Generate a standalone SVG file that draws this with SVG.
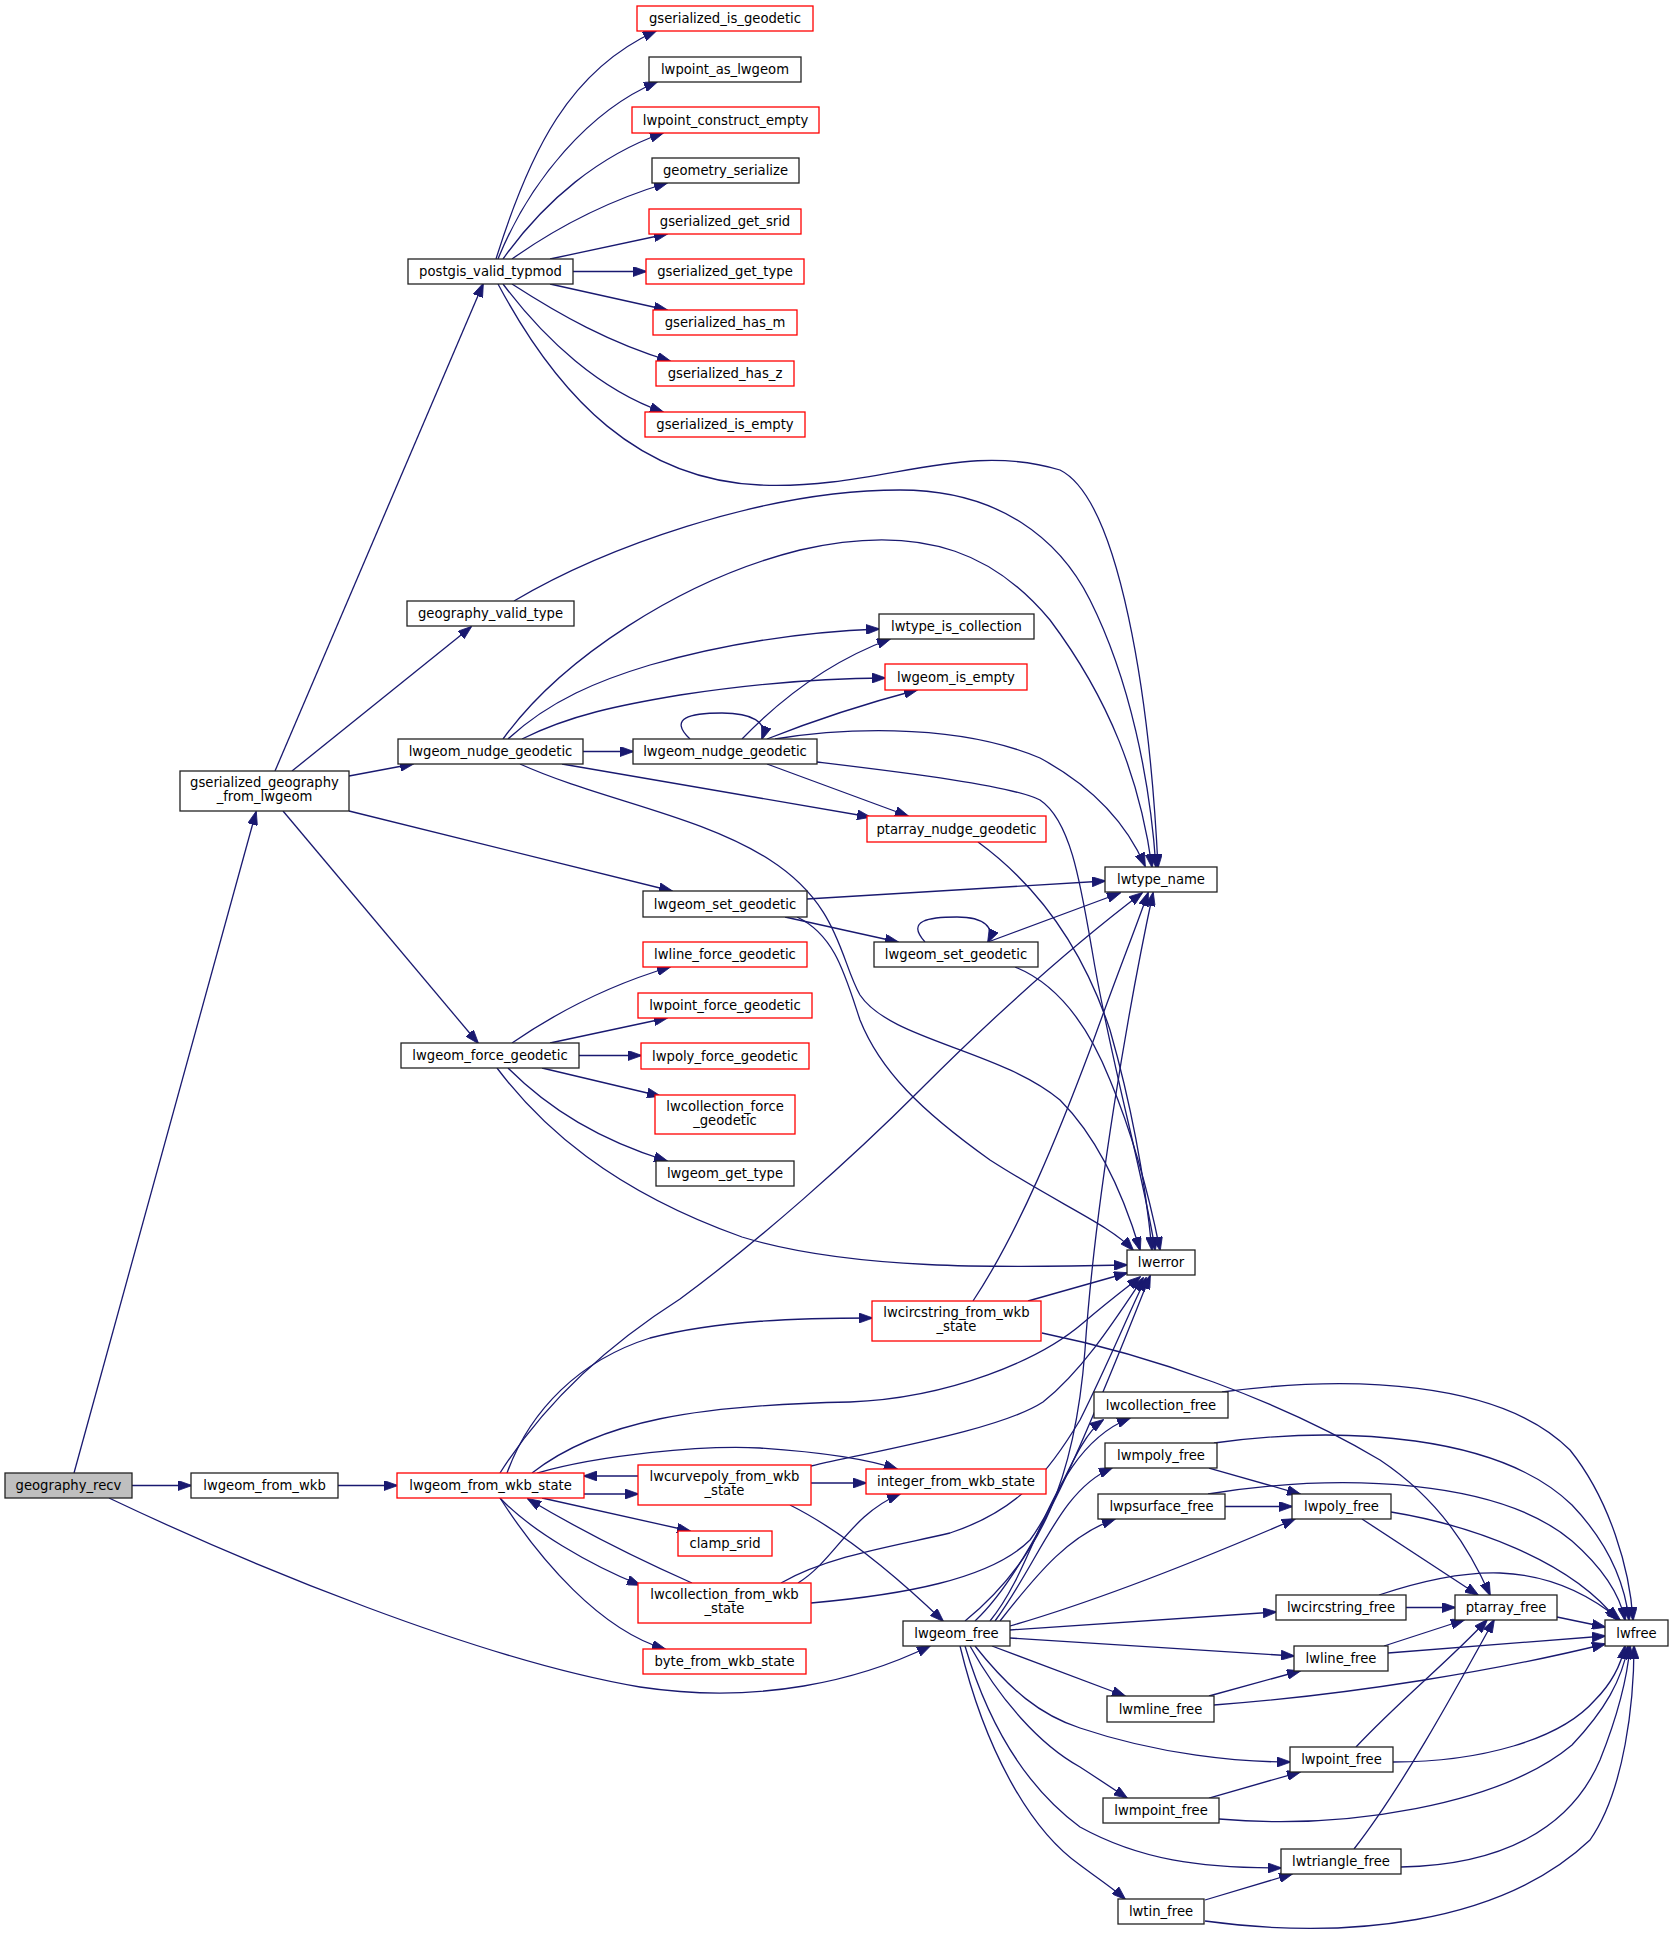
<svg xmlns="http://www.w3.org/2000/svg" width="1673" height="1940" viewBox="0 0 1673 1940">
<style>
.node rect{fill:#ffffff;stroke:#222222;stroke-width:1.3}
.node rect.red{stroke:#ff0000}
.node rect.gray{fill:#bfbfbf}
.node text{font-family:"DejaVu Sans",sans-serif;font-size:13.2px;text-anchor:middle;fill:#000000}
#edges path{fill:none;stroke:#191970;stroke-width:1.3;marker-end:url(#arr)}
</style>
<defs>
<marker id="arr" markerUnits="userSpaceOnUse" markerWidth="14" markerHeight="10" viewBox="0 0 14 10" refX="13" refY="5" orient="auto">
<path d="M0,0 L14,5 L0,10 z" fill="#191970" stroke="#191970" stroke-width="0.8"/>
</marker>
</defs>
<rect x="0" y="0" width="1673" height="1940" fill="#ffffff"/>
<g id="edges">
<path d="M74,1473 L256,812"/>
<path d="M132,1485.5 L191,1485.5"/>
<path d="M109,1498 C250,1565 480,1660 640,1687 C760,1705 860,1680 930,1646"/>
<path d="M275,771 L483,284"/>
<path d="M292,771 L471,627"/>
<path d="M349,776 L413,764"/>
<path d="M349,811 L672,891"/>
<path d="M283,811 L478,1043"/>
<path d="M338,1485.5 L397,1485.5"/>
<path d="M496,259 C530,150 570,70 656,31"/>
<path d="M498,259 C530,180 590,110 657,82"/>
<path d="M503,259 C545,200 600,155 663,133"/>
<path d="M512,259 C560,225 610,200 667,183"/>
<path d="M550,259 L667,234"/>
<path d="M573,271.5 L646,271.5"/>
<path d="M550,284 L667,310"/>
<path d="M512,284 C560,315 610,343 670,361"/>
<path d="M503,284 C545,340 600,390 663,412"/>
<path d="M498,284 C560,400 640,480 760,485 C880,490 960,440 1060,470 C1120,500 1150,700 1158,867"/>
<path d="M514,601 C600,550 760,490 900,490 C1000,490 1060,540 1090,600 C1130,680 1150,780 1156,867"/>
<path d="M503,739 C560,660 680,580 800,550 C930,520 1000,560 1050,620 C1110,700 1140,780 1152,867"/>
<path d="M508,739 C550,700 600,680 650,665 C720,645 800,632 879,629"/>
<path d="M522,739 C570,715 620,705 680,695 C760,683 830,678 885,678"/>
<path d="M583,751.5 L633,751.5"/>
<path d="M562,764 L870,817"/>
<path d="M520,764 C600,800 700,815 770,860 C840,905 840,960 860,995 C890,1040 1000,1050 1060,1100 C1100,1140 1125,1200 1140,1250"/>
<path d="M690,739 C668,718 690,713 722,713 C752,713 768,722 762,739"/>
<path d="M742,739 C770,710 820,665 890,639"/>
<path d="M767,739 C810,722 860,705 917,690"/>
<path d="M775,739 C830,730 950,720 1040,758 C1090,785 1125,820 1145,866"/>
<path d="M817,762 C900,772 1010,785 1040,800 C1070,820 1080,880 1092,950 C1110,1060 1145,1180 1155,1250"/>
<path d="M767,764 L908,816"/>
<path d="M807,899 L1105,881"/>
<path d="M785,917 L898,942"/>
<path d="M797,917 C835,935 845,975 860,1020 C880,1070 920,1110 990,1160 C1060,1205 1110,1225 1133,1250"/>
<path d="M925,942 C905,920 930,917 957,917 C985,917 995,928 988,942"/>
<path d="M988,942 L1120,893"/>
<path d="M1015,967 C1060,985 1090,1030 1110,1080 C1135,1140 1150,1200 1160,1250"/>
<path d="M978,842 C1030,880 1080,940 1110,1030 C1130,1100 1145,1180 1152,1250"/>
<path d="M512,1043 C560,1010 610,985 670,967"/>
<path d="M550,1043 L667,1018"/>
<path d="M579,1055.5 L641,1055.5"/>
<path d="M542,1068 L660,1096"/>
<path d="M508,1068 C550,1110 600,1140 667,1161"/>
<path d="M497,1068 C540,1125 610,1190 742,1237 C850,1270 1000,1268 1127,1265"/>
<path d="M500,1473 C540,1410 600,1350 680,1299 C760,1240 850,1160 920,1090 C1000,1010 1080,940 1142,893"/>
<path d="M507,1473 C530,1410 580,1360 650,1338 C720,1320 800,1318 872,1318"/>
<path d="M532,1473 C600,1420 700,1405 850,1402 C950,1398 1040,1360 1083,1323 C1110,1300 1130,1285 1140,1277"/>
<path d="M537,1473 C600,1455 700,1445 760,1448 C820,1452 870,1460 897,1469"/>
<path d="M584,1494 L638,1494"/>
<path d="M638,1476 L584,1476"/>
<path d="M542,1498 L690,1531"/>
<path d="M500,1498 C530,1530 590,1565 640,1585"/>
<path d="M692,1583 C640,1560 580,1530 528,1499"/>
<path d="M500,1498 C540,1560 600,1630 665,1649"/>
<path d="M811,1483 L866,1483"/>
<path d="M811,1466 C880,1450 1000,1430 1043,1402 C1083,1370 1115,1320 1143,1278"/>
<path d="M790,1505 C840,1530 890,1570 943,1621"/>
<path d="M798,1583 C835,1560 850,1515 900,1494"/>
<path d="M781,1583 C830,1555 900,1545 950,1533 C1020,1510 1050,1470 1080,1420 C1110,1360 1130,1310 1146,1278"/>
<path d="M811,1603 C900,1595 990,1580 1030,1540 C1060,1500 1075,1440 1103,1420"/>
<path d="M973,1301 C1020,1230 1060,1130 1090,1050 C1115,980 1135,930 1148,893"/>
<path d="M1028,1301 L1127,1273"/>
<path d="M1042,1333 C1150,1355 1280,1400 1380,1460 C1440,1500 1470,1550 1490,1595"/>
<path d="M965,1621 C1040,1560 1075,1480 1085,1350 C1095,1200 1130,1000 1153,893"/>
<path d="M975,1621 C1040,1560 1100,1400 1150,1276"/>
<path d="M990,1621 C1040,1560 1050,1450 1130,1418"/>
<path d="M995,1621 C1040,1560 1060,1490 1112,1468"/>
<path d="M1000,1621 C1040,1570 1070,1535 1115,1519"/>
<path d="M1010,1626 C1100,1600 1200,1560 1295,1519"/>
<path d="M1010,1630 L1276,1612"/>
<path d="M1010,1638 L1294,1656"/>
<path d="M992,1646 L1125,1696"/>
<path d="M975,1646 C1010,1690 1040,1715 1080,1728 C1160,1755 1240,1762 1290,1762"/>
<path d="M970,1646 C1000,1700 1040,1745 1080,1767 C1100,1780 1115,1790 1127,1798"/>
<path d="M965,1646 C990,1730 1030,1790 1080,1827 C1140,1860 1200,1868 1281,1868"/>
<path d="M960,1646 C985,1750 1030,1830 1080,1865 C1100,1880 1115,1890 1125,1899"/>
<path d="M1222,1392 C1350,1375 1500,1380 1570,1450 C1610,1500 1630,1570 1633,1620"/>
<path d="M1214,1443 C1345,1425 1500,1435 1572,1505 C1610,1545 1625,1585 1629,1620"/>
<path d="M1209,1468 L1300,1494"/>
<path d="M1225,1506.5 L1292,1506.5"/>
<path d="M1208,1494 C1345,1472 1500,1480 1572,1541 C1605,1570 1620,1595 1625,1620"/>
<path d="M1209,1696 L1300,1671"/>
<path d="M1214,1705 C1350,1695 1500,1670 1605,1644"/>
<path d="M1209,1798 L1300,1772"/>
<path d="M1219,1819 C1345,1830 1500,1805 1572,1745 C1605,1710 1622,1680 1628,1646"/>
<path d="M1205,1900 L1292,1874"/>
<path d="M1205,1921 C1345,1940 1500,1925 1590,1840 C1625,1790 1634,1700 1634,1646"/>
<path d="M1362,1519 L1478,1595"/>
<path d="M1391,1512 C1470,1525 1570,1560 1617,1620"/>
<path d="M1406,1607.5 L1455,1607.5"/>
<path d="M1379,1595 C1430,1578 1470,1572 1500,1573 C1550,1575 1590,1595 1620,1620"/>
<path d="M1557,1617 L1605,1627"/>
<path d="M1384,1646 L1464,1620"/>
<path d="M1388,1653 L1605,1636"/>
<path d="M1356,1747 C1400,1700 1450,1660 1487,1620"/>
<path d="M1393,1762 C1480,1762 1560,1740 1595,1700 C1615,1680 1622,1660 1625,1646"/>
<path d="M1354,1849 C1400,1790 1450,1700 1494,1620"/>
<path d="M1401,1867 C1500,1865 1570,1830 1600,1760 C1620,1710 1628,1670 1630,1646"/>
</g>
<g id="n_geography_recv" class="node"><rect class="gray" x="5" y="1473" width="127" height="25"/><text x="68.5" y="1490">geography_recv</text></g>
<g id="n_gserialized_geography_from_lwgeom" class="node"><rect x="180" y="771" width="169" height="40"/><text x="264.5" y="787">gserialized_geography</text><text x="264.5" y="801">_from_lwgeom</text></g>
<g id="n_lwgeom_from_wkb" class="node"><rect x="191" y="1473" width="147" height="25"/><text x="264.5" y="1490">lwgeom_from_wkb</text></g>
<g id="n_postgis_valid_typmod" class="node"><rect x="408" y="259" width="165" height="25"/><text x="490.5" y="276">postgis_valid_typmod</text></g>
<g id="n_geography_valid_type" class="node"><rect x="407" y="601" width="167" height="25"/><text x="490.5" y="618">geography_valid_type</text></g>
<g id="n_lwgeom_nudge_geodetic_a" class="node"><rect x="398" y="739" width="185" height="25"/><text x="490.5" y="756">lwgeom_nudge_geodetic</text></g>
<g id="n_lwgeom_set_geodetic_a" class="node"><rect x="643" y="891" width="164" height="26"/><text x="725" y="908.5">lwgeom_set_geodetic</text></g>
<g id="n_lwgeom_force_geodetic" class="node"><rect x="401" y="1043" width="178" height="25"/><text x="490" y="1060">lwgeom_force_geodetic</text></g>
<g id="n_lwgeom_from_wkb_state" class="node"><rect class="red" x="397" y="1473" width="187" height="25"/><text x="490.5" y="1490">lwgeom_from_wkb_state</text></g>
<g id="n_gserialized_is_geodetic" class="node"><rect class="red" x="637" y="6" width="176" height="25"/><text x="725" y="23">gserialized_is_geodetic</text></g>
<g id="n_lwpoint_as_lwgeom" class="node"><rect x="649" y="57" width="152" height="25"/><text x="725" y="74">lwpoint_as_lwgeom</text></g>
<g id="n_lwpoint_construct_empty" class="node"><rect class="red" x="632" y="107" width="187" height="26"/><text x="725.5" y="124.5">lwpoint_construct_empty</text></g>
<g id="n_geometry_serialize" class="node"><rect x="652" y="158" width="147" height="25"/><text x="725.5" y="175">geometry_serialize</text></g>
<g id="n_gserialized_get_srid" class="node"><rect class="red" x="649" y="209" width="152" height="25"/><text x="725" y="226">gserialized_get_srid</text></g>
<g id="n_gserialized_get_type" class="node"><rect class="red" x="646" y="259" width="158" height="25"/><text x="725" y="276">gserialized_get_type</text></g>
<g id="n_gserialized_has_m" class="node"><rect class="red" x="653" y="310" width="144" height="25"/><text x="725" y="327">gserialized_has_m</text></g>
<g id="n_gserialized_has_z" class="node"><rect class="red" x="656" y="361" width="138" height="25"/><text x="725" y="378">gserialized_has_z</text></g>
<g id="n_gserialized_is_empty" class="node"><rect class="red" x="645" y="412" width="160" height="25"/><text x="725" y="429">gserialized_is_empty</text></g>
<g id="n_lwgeom_nudge_geodetic_b" class="node"><rect x="633" y="739" width="184" height="25"/><text x="725" y="756">lwgeom_nudge_geodetic</text></g>
<g id="n_lwline_force_geodetic" class="node"><rect class="red" x="643" y="942" width="164" height="25"/><text x="725" y="959">lwline_force_geodetic</text></g>
<g id="n_lwpoint_force_geodetic" class="node"><rect class="red" x="638" y="993" width="174" height="25"/><text x="725" y="1010">lwpoint_force_geodetic</text></g>
<g id="n_lwpoly_force_geodetic" class="node"><rect class="red" x="641" y="1043" width="168" height="26"/><text x="725" y="1060.5">lwpoly_force_geodetic</text></g>
<g id="n_lwcollection_force_geodetic" class="node"><rect class="red" x="655" y="1095" width="140" height="39"/><text x="725" y="1110.5">lwcollection_force</text><text x="725" y="1124.5">_geodetic</text></g>
<g id="n_lwgeom_get_type" class="node"><rect x="656" y="1161" width="138" height="25"/><text x="725" y="1178">lwgeom_get_type</text></g>
<g id="n_lwcurvepoly_from_wkb_state" class="node"><rect class="red" x="638" y="1465" width="173" height="40"/><text x="724.5" y="1481">lwcurvepoly_from_wkb</text><text x="724.5" y="1495">_state</text></g>
<g id="n_clamp_srid" class="node"><rect class="red" x="678" y="1531" width="94" height="25"/><text x="725" y="1548">clamp_srid</text></g>
<g id="n_lwcollection_from_wkb_state" class="node"><rect class="red" x="638" y="1583" width="173" height="40"/><text x="724.5" y="1599">lwcollection_from_wkb</text><text x="724.5" y="1613">_state</text></g>
<g id="n_byte_from_wkb_state" class="node"><rect class="red" x="643" y="1649" width="163" height="25"/><text x="724.5" y="1666">byte_from_wkb_state</text></g>
<g id="n_lwtype_is_collection" class="node"><rect x="879" y="614" width="155" height="25"/><text x="956.5" y="631">lwtype_is_collection</text></g>
<g id="n_lwgeom_is_empty" class="node"><rect class="red" x="885" y="664" width="142" height="26"/><text x="956" y="681.5">lwgeom_is_empty</text></g>
<g id="n_ptarray_nudge_geodetic" class="node"><rect class="red" x="867" y="816" width="179" height="26"/><text x="956.5" y="833.5">ptarray_nudge_geodetic</text></g>
<g id="n_lwgeom_set_geodetic_b" class="node"><rect x="874" y="942" width="164" height="25"/><text x="956" y="959">lwgeom_set_geodetic</text></g>
<g id="n_lwcircstring_from_wkb_state" class="node"><rect class="red" x="872" y="1301" width="169" height="40"/><text x="956.5" y="1317">lwcircstring_from_wkb</text><text x="956.5" y="1331">_state</text></g>
<g id="n_integer_from_wkb_state" class="node"><rect class="red" x="866" y="1469" width="180" height="25"/><text x="956" y="1486">integer_from_wkb_state</text></g>
<g id="n_lwgeom_free" class="node"><rect x="903" y="1621" width="107" height="25"/><text x="956.5" y="1638">lwgeom_free</text></g>
<g id="n_lwtype_name" class="node"><rect x="1105" y="867" width="112" height="25"/><text x="1161" y="884">lwtype_name</text></g>
<g id="n_lwerror" class="node"><rect x="1127" y="1250" width="68" height="25"/><text x="1161" y="1267">lwerror</text></g>
<g id="n_lwcollection_free" class="node"><rect x="1094" y="1392" width="134" height="26"/><text x="1161" y="1409.5">lwcollection_free</text></g>
<g id="n_lwmpoly_free" class="node"><rect x="1105" y="1443" width="112" height="25"/><text x="1161" y="1460">lwmpoly_free</text></g>
<g id="n_lwpsurface_free" class="node"><rect x="1098" y="1494" width="127" height="25"/><text x="1161.5" y="1511">lwpsurface_free</text></g>
<g id="n_lwmline_free" class="node"><rect x="1107" y="1696" width="107" height="26"/><text x="1160.5" y="1713.5">lwmline_free</text></g>
<g id="n_lwmpoint_free" class="node"><rect x="1103" y="1798" width="116" height="25"/><text x="1161" y="1815">lwmpoint_free</text></g>
<g id="n_lwtin_free" class="node"><rect x="1118" y="1899" width="86" height="25"/><text x="1161" y="1916">lwtin_free</text></g>
<g id="n_lwpoly_free" class="node"><rect x="1292" y="1494" width="99" height="25"/><text x="1341.5" y="1511">lwpoly_free</text></g>
<g id="n_lwcircstring_free" class="node"><rect x="1276" y="1595" width="130" height="25"/><text x="1341" y="1612">lwcircstring_free</text></g>
<g id="n_lwline_free" class="node"><rect x="1294" y="1646" width="94" height="25"/><text x="1341" y="1663">lwline_free</text></g>
<g id="n_lwpoint_free" class="node"><rect x="1290" y="1747" width="103" height="25"/><text x="1341.5" y="1764">lwpoint_free</text></g>
<g id="n_lwtriangle_free" class="node"><rect x="1281" y="1849" width="120" height="25"/><text x="1341" y="1866">lwtriangle_free</text></g>
<g id="n_ptarray_free" class="node"><rect x="1455" y="1595" width="102" height="25"/><text x="1506" y="1612">ptarray_free</text></g>
<g id="n_lwfree" class="node"><rect x="1605" y="1620" width="63" height="26"/><text x="1636.5" y="1637.5">lwfree</text></g>
</svg>
